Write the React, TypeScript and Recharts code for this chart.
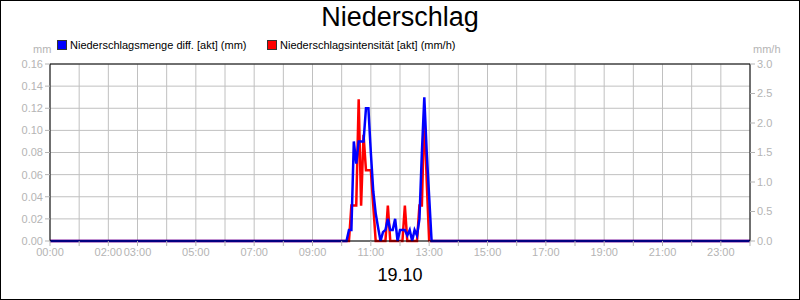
import {
  LineChart,
  Line,
  XAxis,
  YAxis,
  CartesianGrid,
  ReferenceLine,
} from 'recharts';

// 5-minute readings of 19.10, only the rainy stretch; the rest of the day is dry (0)
const TIMES = [
  '00:00', '10:05', '10:10', '10:15', '10:20', '10:25', '10:30', '10:35', '10:40', '10:45',
  '10:50', '10:55', '11:00', '11:05', '11:10', '11:15', '11:20', '11:25', '11:30', '11:35',
  '11:40', '11:45', '11:50', '11:55', '12:00', '12:05', '12:10', '12:15', '12:20', '12:25',
  '12:30', '12:35', '12:40', '12:45', '12:50', '12:55', '13:00', '13:05', '13:10', '24:00',
];

// Niederschlagsmenge diff. [akt] (mm)
const MENGE = [
  0, 0, 0, 0.01, 0.01, 0.09, 0.07, 0.09, 0.09, 0.09,
  0.12, 0.12, 0.08, 0.045, 0.025, 0.012, 0, 0.008, 0.01, 0.02,
  0.01, 0.01, 0.02, 0, 0.01, 0.01, 0.01, 0.005, 0.01, 0,
  0.01, 0.005, 0.02, 0.08, 0.13, 0.08, 0.04, 0, 0, 0,
];

// Niederschlagsintensität [akt] (mm/h)
const INTENSITAET = [
  0, 0, 0, 0, 0.6, 0.6, 0.6, 2.4, 0.6, 1.8,
  1.2, 1.2, 1.2, 0.6, 0, 0, 0, 0, 0, 0.6,
  0, 0, 0, 0, 0, 0, 0.6, 0, 0, 0,
  0, 0, 0.6, 0.6, 2.2, 1.0, 0, 0, 0, 0,
];

const X_LABELS = [
  '00:00', '02:00', '03:00', '05:00', '07:00', '09:00', '11:00',
  '13:00', '15:00', '17:00', '19:00', '21:00', '23:00',
];
const LEFT_TICKS = [0, 0.02, 0.04, 0.06, 0.08, 0.1, 0.12, 0.14, 0.16];
const RIGHT_TICKS = [0, 0.5, 1, 1.5, 2, 2.5, 3];

const toMinutes = (t: string) => {
  const [h, m] = t.split(':').map(Number);
  return h * 60 + m;
};

const data = TIMES.map((t, i) => ({
  t: toMinutes(t),
  menge: MENGE[i],
  intens: INTENSITAET[i],
}));

const HOUR_TICKS = Array.from({ length: 25 }, (_, h) => h * 60);
const LABELED = new Set(X_LABELS.map(toMinutes));

const FONT = '"Liberation Sans", Arial, sans-serif';
const GREY = '#b4b4b4';
const BLUE = '#0000ff';
const RED = '#ff0000';

const fmtTime = (v: number) => {
  if (!LABELED.has(v)) return '';
  const h = Math.floor(v / 60);
  return `${String(h).padStart(2, '0')}:00`;
};

function LegendItem({ color, text, left }: { color: string; text: string; left: number }) {
  return (
    <div style={{ position: 'absolute', left, top: 39, display: 'flex', alignItems: 'center', fontSize: 11, color: '#000' }}>
      <span style={{ display: 'inline-block', width: 8, height: 8, background: color, border: '1px solid #333', marginRight: 3 }} />
      {text}
    </div>
  );
}

export default function App() {
  return (
    <div style={{ position: 'absolute', left: 0, top: 0, width: 800, height: 300, background: '#fff', fontFamily: FONT }}>
      <LineChart width={800} height={300} data={data} margin={{ top: 64, right: 0, bottom: 29, left: 0 }}>
        <CartesianGrid yAxisId="left" stroke="#c0c0c0" strokeWidth={1} />
        <XAxis
          dataKey="t"
          type="number"
          domain={[0, 1440]}
          ticks={HOUR_TICKS}
          interval={0}
          tickFormatter={fmtTime}
          height={30}
          tickSize={5}
          tick={{ fill: GREY, fontSize: 11, fontFamily: FONT }}
          tickLine={{ stroke: GREY }}
          axisLine={{ stroke: '#000' }}
        />
        <YAxis
          yAxisId="left"
          domain={[0, 0.16]}
          ticks={LEFT_TICKS}
          interval={0}
          width={50}
          tickSize={5}
          tickFormatter={(v: number) => v.toFixed(2)}
          tick={{ fill: GREY, fontSize: 11, fontFamily: FONT }}
          tickLine={{ stroke: GREY }}
          axisLine={{ stroke: '#000' }}
        />
        <YAxis
          yAxisId="right"
          orientation="right"
          domain={[0, 3]}
          ticks={RIGHT_TICKS}
          interval={0}
          width={50}
          tickSize={5}
          tickFormatter={(v: number) => v.toFixed(1)}
          tick={{ fill: GREY, fontSize: 11, fontFamily: FONT }}
          tickLine={{ stroke: GREY }}
          axisLine={{ stroke: '#000' }}
        />
        <ReferenceLine yAxisId="left" y={0.16} stroke="#000" />
        <Line
          yAxisId="right"
          dataKey="intens"
          stroke={RED}
          strokeWidth={2.5}
          dot={false}
          isAnimationActive={false}
        />
        <Line
          yAxisId="left"
          dataKey="menge"
          stroke={BLUE}
          strokeWidth={2.5}
          dot={false}
          isAnimationActive={false}
        />
      </LineChart>

      <div style={{ position: 'absolute', left: 0, top: 2, width: 800, textAlign: 'center', fontSize: 27 }}>
        Niederschlag
      </div>
      <LegendItem color={BLUE} left={57} text="Niederschlagsmenge diff. [akt] (mm)" />
      <LegendItem color={RED} left={267} text="Niederschlagsintensität [akt] (mm/h)" />
      <div style={{ position: 'absolute', left: 33, top: 43, fontSize: 11, color: GREY }}>mm</div>
      <div style={{ position: 'absolute', left: 753, top: 43, fontSize: 11, color: GREY }}>mm/h</div>
      <div style={{ position: 'absolute', left: 0, top: 265, width: 800, textAlign: 'center', fontSize: 18 }}>
        19.10
      </div>
      <div style={{ position: 'absolute', left: 0, top: 0, width: 800, height: 300, border: '1px solid #000', boxSizing: 'border-box', pointerEvents: 'none' }} />
    </div>
  );
}
